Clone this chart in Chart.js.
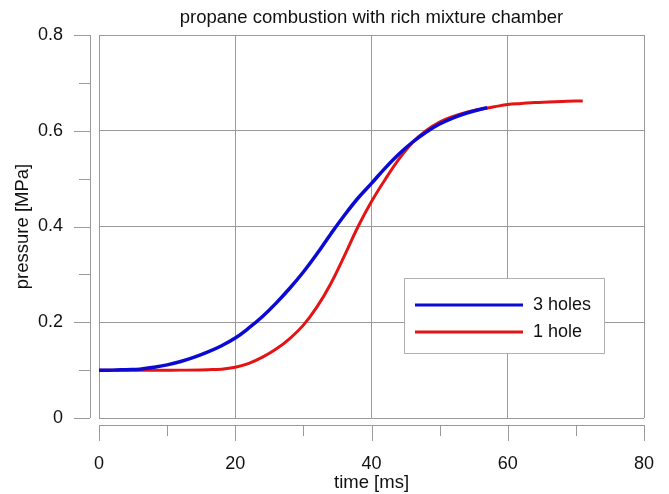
<!DOCTYPE html>
<html>
<head>
<meta charset="utf-8">
<script src="https://cdn.jsdelivr.net/npm/chart.js@4.4.0/dist/chart.umd.min.js"></script>
<style>
  html, body { margin: 0; padding: 0; background: #fff; }
  #wrap { width: 669px; height: 494px; }
</style>
</head>
<body>
<div id="wrap"><canvas id="pressureChart"></canvas></div>
<script>
// Data
const chartTitle = 'propane combustion with rich mixture chamber';
const seriesNames = ['3 holes', '1 hole'];

const time3Holes = [0, 2, 4, 6, 8, 10, 12, 14, 16, 18, 20, 22, 24, 26, 28, 30, 32, 34, 36, 38, 40, 42, 44, 46, 48, 50, 52, 54, 56, 57];
const press3Holes = [0.100, 0.100, 0.101, 0.102, 0.106, 0.111, 0.118, 0.127, 0.138, 0.151, 0.167, 0.188, 0.212, 0.240, 0.271, 0.305, 0.343, 0.384, 0.423, 0.459, 0.490, 0.522, 0.551, 0.576, 0.597, 0.614, 0.627, 0.637, 0.645, 0.648];

const time1Hole = [0, 4, 8, 12, 16, 18, 20, 22, 24, 26, 28, 30, 32, 34, 36, 38, 40, 42, 44, 46, 48, 50, 52, 54, 56, 58, 60, 62, 64, 66, 68, 70, 71];
const press1Hole = [0.100, 0.100, 0.100, 0.100, 0.101, 0.102, 0.106, 0.114, 0.127, 0.144, 0.166, 0.194, 0.232, 0.280, 0.338, 0.399, 0.452, 0.498, 0.540, 0.575, 0.600, 0.618, 0.630, 0.639, 0.645, 0.650, 0.655, 0.657, 0.659, 0.660, 0.661, 0.662, 0.662];

const xMin = 0, xMax = 80, xStep = 10;
const yMin = 0, yMax = 0.8, yStep = 0.1;

const FONT = "'Liberation Sans', Arial, sans-serif";
const GRID = '#9a9a9a';

function toPoints(xs, ys) {
    return xs.map((x, i) => ({ x: x, y: ys[i] }));
}

// offset axes with major/minor ticks, title and boxed legend
const decorPlugin = {
    id: 'decor',
    afterDraw(chart) {
        const ctx = chart.ctx;
        const area = chart.chartArea;
        const xs = chart.scales.x;
        const ys = chart.scales.y;
        ctx.save();
        ctx.strokeStyle = GRID;
        ctx.lineWidth = 1;

        // x axis line below the plot box
        const ax = area.bottom + 7;
        ctx.beginPath();
        ctx.moveTo(area.left, ax + 0.5);
        ctx.lineTo(area.right, ax + 0.5);
        xs.ticks.forEach(t => {
            const px = Math.round(xs.getPixelForValue(t.value)) + 0.5;
            const major = Math.round(t.value / xStep) % 2 === 0;
            ctx.moveTo(px, ax);
            ctx.lineTo(px, ax + (major ? 16 : 11));
        });
        ctx.stroke();

        // y axis line left of the plot box
        const ay = area.left - 9;
        ctx.beginPath();
        ctx.moveTo(ay + 0.5, area.top);
        ctx.lineTo(ay + 0.5, area.bottom);
        ys.ticks.forEach(t => {
            const py = Math.round(ys.getPixelForValue(t.value)) + 0.5;
            const major = Math.round(t.value / yStep) % 2 === 0;
            ctx.moveTo(ay, py);
            ctx.lineTo(ay - (major ? 16 : 11), py);
        });
        ctx.stroke();

        // title
        ctx.fillStyle = '#111';
        ctx.font = '18.5px ' + FONT;
        ctx.textAlign = 'center';
        ctx.textBaseline = 'middle';
        ctx.fillText(chartTitle, (area.left + area.right) / 2, 18);

        // legend box
        const lx = area.left + 305, ly = area.top + 243, lw = 200, lh = 75;
        ctx.fillStyle = '#fff';
        ctx.fillRect(lx, ly, lw, lh);
        ctx.strokeStyle = '#b0b0b0';
        ctx.strokeRect(lx + 0.5, ly + 0.5, lw, lh);
        ctx.font = '18px ' + FONT;
        ctx.textAlign = 'left';
        chart.data.datasets.forEach((ds, i) => {
            const y = ly + 27 + i * 27;
            ctx.strokeStyle = ds.borderColor;
            ctx.lineWidth = 3;
            ctx.beginPath();
            ctx.moveTo(lx + 11, y);
            ctx.lineTo(lx + 119, y);
            ctx.stroke();
            ctx.fillStyle = '#111';
            ctx.fillText(ds.label, lx + 129, y);
        });
        ctx.restore();
    }
};

const ctxPressure = document.getElementById('pressureChart').getContext('2d');
const pressureChart = new Chart(ctxPressure, {
    type: 'line',
    data: {
        datasets: [{
            label: seriesNames[0],
            data: toPoints(time3Holes, press3Holes),
            borderColor: 'rgb(10, 10, 210)',
            borderWidth: 3.5,
            pointRadius: 0,
            tension: 0.4,
            fill: false,
        }, {
            label: seriesNames[1],
            data: toPoints(time1Hole, press1Hole),
            borderColor: 'rgb(228, 20, 20)',
            borderWidth: 3,
            pointRadius: 0,
            tension: 0.4,
            fill: false,
        }]
    },
    options: {
        responsive: true,
        maintainAspectRatio: false,
        animation: false,
        layout: { padding: { top: 35, right: 25, left: 0, bottom: 0 } },
        plugins: {
            legend: { display: false },
            title: { display: false },
            tooltip: { enabled: false },
        },
        scales: {
            x: {
                type: 'linear',
                min: xMin,
                max: xMax,
                afterFit(scale) {
                    scale.height = 76;
                    scale.paddingLeft = 0;
                    scale.paddingRight = 0;
                },
                ticks: {
                    stepSize: xStep,
                    maxRotation: 0,
                    padding: 35,
                    color: '#111',
                    font: { family: FONT, size: 18 },
                    callback: v => (Math.round(v / xStep) % 2 === 0 ? String(v) : ''),
                },
                grid: {
                    drawTicks: false,
                    color: ctx => (ctx.tick && Math.round(ctx.tick.value / xStep) % 2 === 0 ? GRID : 'rgba(0,0,0,0)'),
                },
                border: { display: false },
                title: {
                    display: true,
                    text: 'time [ms]',
                    color: '#111',
                    font: { family: FONT, size: 18.5 },
                    padding: { top: 0, bottom: 0 },
                },
            },
            y: {
                min: yMin,
                max: yMax,
                afterFit(scale) {
                    scale.width = 99;
                    scale.paddingTop = 0;
                    scale.paddingBottom = 0;
                },
                ticks: {
                    stepSize: yStep,
                    padding: 36,
                    color: '#111',
                    font: { family: FONT, size: 18 },
                    callback: v => {
                        const k = Math.round(v / yStep);
                        return k % 2 === 0 ? String(Math.round(v * 10) / 10) : '';
                    },
                },
                grid: {
                    drawTicks: false,
                    color: ctx => (ctx.tick && Math.round(ctx.tick.value / yStep) % 2 === 0 ? GRID : 'rgba(0,0,0,0)'),
                },
                border: { display: false },
                title: {
                    display: true,
                    text: 'pressure [MPa]',
                    color: '#111',
                    font: { family: FONT, size: 18.5 },
                    padding: { top: 12, bottom: 0 },
                },
            }
        }
    },
    plugins: [decorPlugin]
});
</script>
</body>
</html>
